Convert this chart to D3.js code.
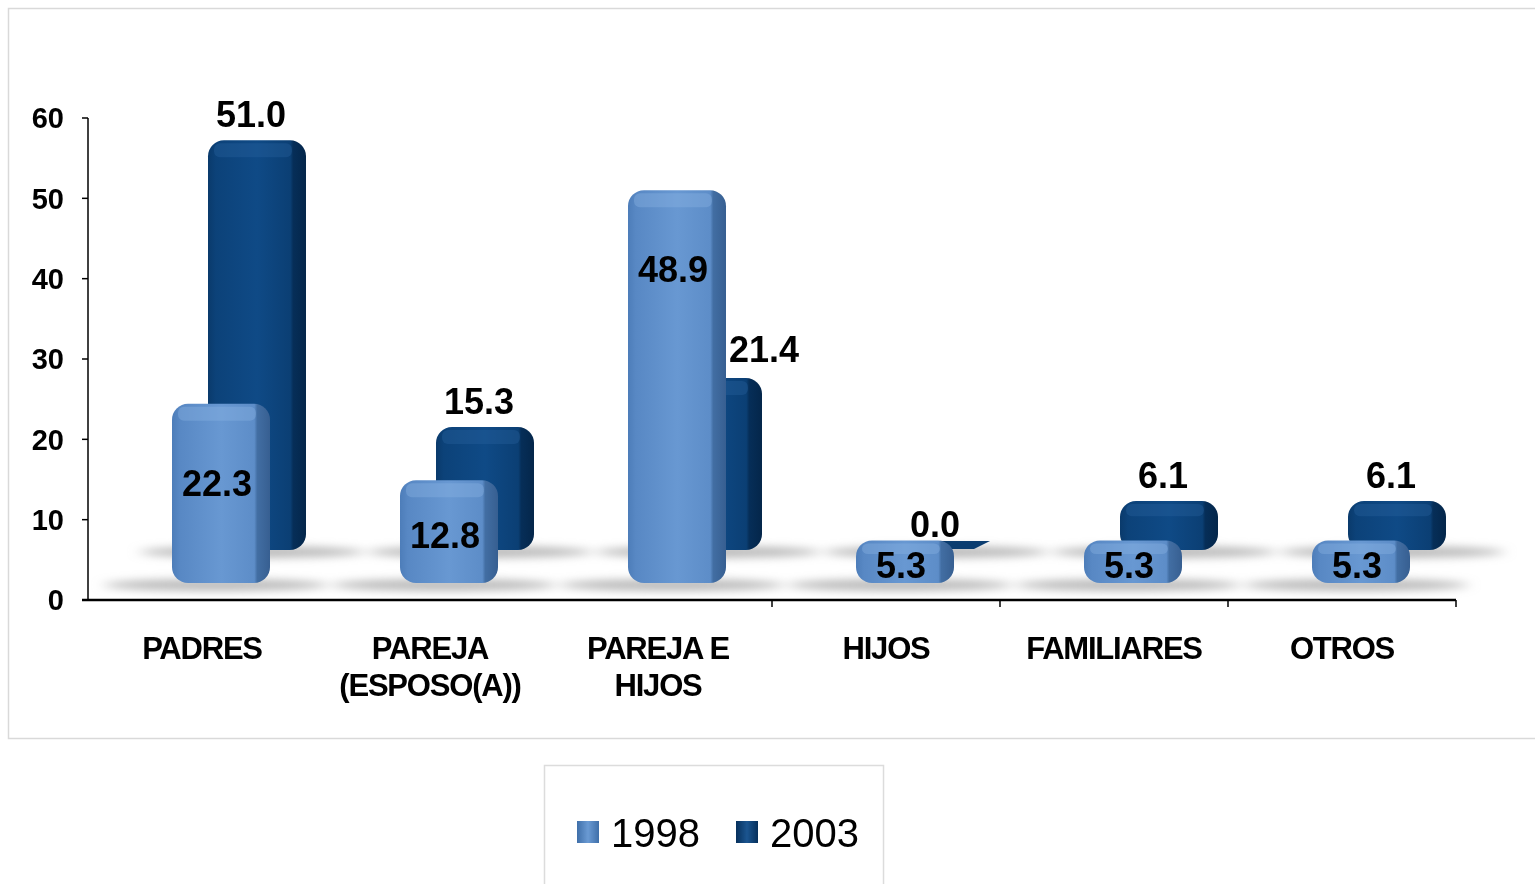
<!DOCTYPE html>
<html><head><meta charset="utf-8">
<script src="https://cdn.jsdelivr.net/npm/d3@7"></script>
<style>
html,body{margin:0;padding:0;background:#fff;}
svg{display:block;font-family:"Liberation Sans",Arial,sans-serif;}
</style></head>
<body>
<svg id="c" width="1535" height="884"></svg>
<script>
const categories = [["PADRES"], ["PAREJA", "(ESPOSO(A))"], ["PAREJA E", "HIJOS"], ["HIJOS"], ["FAMILIARES"], ["OTROS"]];
const seriesNames = ["1998", "2003"];
const values1998 = [22.3, 12.8, 48.9, 5.3, 5.3, 5.3];
const values2003 = [51.0, 15.3, 21.4, 0.0, 6.1, 6.1];
const yTicks = [0, 10, 20, 30, 40, 50, 60];

const svg = d3.select("#c");
const defs = svg.append("defs");

function grad(id, stops) {
  const g = defs.append("linearGradient").attr("id", id).attr("x1", 0).attr("x2", 1).attr("y1", 0).attr("y2", 0);
  stops.forEach(s => g.append("stop").attr("offset", s[0]).attr("stop-color", s[1]));
}
grad("gFront", [[0, "#4d7db9"], [0.08, "#5888c4"], [0.5, "#6898d2"], [0.84, "#5d8dc8"], [0.87, "#426ea3"], [1, "#375f91"]]);
grad("gBack", [[0, "#0a3a6b"], [0.08, "#0c4279"], [0.5, "#0f4a86"], [0.84, "#0b3f74"], [0.87, "#062e58"], [1, "#04264a"]]);
grad("gLegF", [[0, "#3f6fa9"], [0.5, "#6a9ad3"], [1, "#3f6fa9"]]);
grad("gLegB", [[0, "#06305c"], [0.5, "#1b5590"], [1, "#06305c"]]);
const blur = defs.append("filter").attr("id", "blur").attr("x", "-50%").attr("y", "-200%").attr("width", "200%").attr("height", "500%");
blur.append("feGaussianBlur").attr("stdDeviation", "7 4");

svg.append("rect").attr("x", 8.5).attr("y", 8.5).attr("width", 1540).attr("height", 730)
  .attr("fill", "#fff").attr("stroke", "#d9d9d9").attr("stroke-width", 1.5);
svg.append("rect").attr("x", 544.5).attr("y", 765.5).attr("width", 339).attr("height", 140)
  .attr("fill", "#fff").attr("stroke", "#dcdcdc").attr("stroke-width", 1.5);

const x = d3.scaleBand().domain(d3.range(categories.length)).range([88, 1456]).padding(0);
const y = d3.scaleLinear().domain([0, 60]).range([600, 118]);

const frontOff = 84, backOff = 120, barW = 98;
const frontLift = 17, backLift = 50;

const gSh = svg.append("g").attr("filter", "url(#blur)");
[[values2003, backOff, backLift], [values1998, frontOff, frontLift]].forEach(([vals, off, lift]) => {
  gSh.selectAll(null).data(vals).join("ellipse")
    .attr("cx", (d, i) => x(i) + off + barW / 2 - 5)
    .attr("cy", y(0) - lift + 2)
    .attr("rx", 112).attr("ry", 6)
    .attr("fill", "#aaaaaa").attr("opacity", 0.8);
});

function drawBars(vals, off, lift, fill, topCol, cls) {
  const g = svg.append("g").attr("class", cls);
  vals.forEach((v, i) => {
    const x0 = x(i) + off;
    const bottom = y(0) - lift;
    const top = y(v) - lift;
    if (v === 0) {
      g.append("path")
        .attr("d", `M${x0 + 8},${bottom - 9} L${x0 + barW},${bottom - 9} L${x0 + barW - 16},${bottom - 1} L${x0 + 4},${bottom - 1} Z`)
        .attr("fill", "#0b3d70");
      return;
    }
    const h = bottom - top;
    const r = Math.min(16, h / 2.6);
    g.append("rect").attr("x", x0).attr("y", top).attr("width", barW).attr("height", h)
      .attr("rx", r).attr("ry", r).attr("fill", fill);
    g.append("rect").attr("x", x0 + 6).attr("y", top + 3).attr("width", barW - 20).attr("height", Math.min(14, h / 4))
      .attr("rx", 6).attr("fill", topCol).attr("opacity", 0.35);
  });
  return g;
}

drawBars(values2003, backOff, backLift, "url(#gBack)", "#2a64a0", "back");
drawBars(values1998, frontOff, frontLift, "url(#gFront)", "#8fb6e6", "front");

const lblStyle = s => s.attr("font-size", 36).attr("font-weight", "bold").attr("fill", "#000").attr("text-anchor", "middle");
values2003.forEach((v, i) => {
  const cx = x(i) + backOff + barW / 2;
  const top = y(v) - backLift;
  const frontTop = y(values1998[i]) - frontLift;
  const shift = frontTop < top - 40 ? 57 : 0;
  svg.append("text").call(lblStyle)
    .attr("x", cx + shift - 6).attr("y", (v === 0 ? top - 13 : top - 13) - (shift ? 3 : 0))
    .text(v.toFixed(1));
});
values1998.forEach((v, i) => {
  const cx = x(i) + frontOff + barW / 2 - 4;
  const top = y(v) - frontLift;
  const bottom = y(0) - frontLift;
  const cy = Math.min(top + 79, (top + bottom) / 2 + 3);
  svg.append("text").call(lblStyle)
    .attr("x", cx).attr("y", cy).attr("dy", "0.36em")
    .text(v.toFixed(1));
});

const axG = svg.append("g").attr("stroke", "#000");
axG.append("line").attr("x1", 88).attr("x2", 88).attr("y1", y(60)).attr("y2", y(0)).attr("stroke-width", 1.5);
axG.selectAll(".yt").data(yTicks).join("line")
  .attr("x1", 82).attr("x2", 88).attr("y1", d => y(d)).attr("y2", d => y(d)).attr("stroke-width", 1.5);
axG.append("line").attr("x1", 82).attr("x2", 1456).attr("y1", y(0)).attr("y2", y(0)).attr("stroke-width", 2.5);
axG.selectAll(".xt").data(d3.range(3, categories.length + 1)).join("line")
  .attr("x1", d => 88 + d * x.bandwidth()).attr("x2", d => 88 + d * x.bandwidth())
  .attr("y1", y(0)).attr("y2", y(0) + 7).attr("stroke-width", 1.5);

svg.selectAll(".ytl").data(yTicks).join("text")
  .attr("x", 64).attr("y", d => y(d)).attr("dy", "0.36em")
  .attr("text-anchor", "end").attr("font-size", 29).attr("font-weight", "bold").attr("fill", "#000")
  .text(d => d);

categories.forEach((lines, i) => {
  const t = svg.append("text").attr("text-anchor", "middle").attr("font-size", 31).attr("font-weight", "bold")
    .attr("letter-spacing", -1.2).attr("fill", "#000");
  lines.forEach((ln, j) => {
    t.append("tspan").attr("x", x(i) + x.bandwidth() / 2).attr("y", 659 + j * 37).text(ln);
  });
});

const leg = [{ n: seriesNames[0], f: "url(#gLegF)", x: 577 }, { n: seriesNames[1], f: "url(#gLegB)", x: 736 }];
leg.forEach(l => {
  svg.append("rect").attr("x", l.x).attr("y", 821).attr("width", 22).attr("height", 22).attr("fill", l.f);
  svg.append("text").attr("x", l.x + 34).attr("y", 847).attr("font-size", 40).attr("fill", "#000").text(l.n);
});
</script>
</body></html>
